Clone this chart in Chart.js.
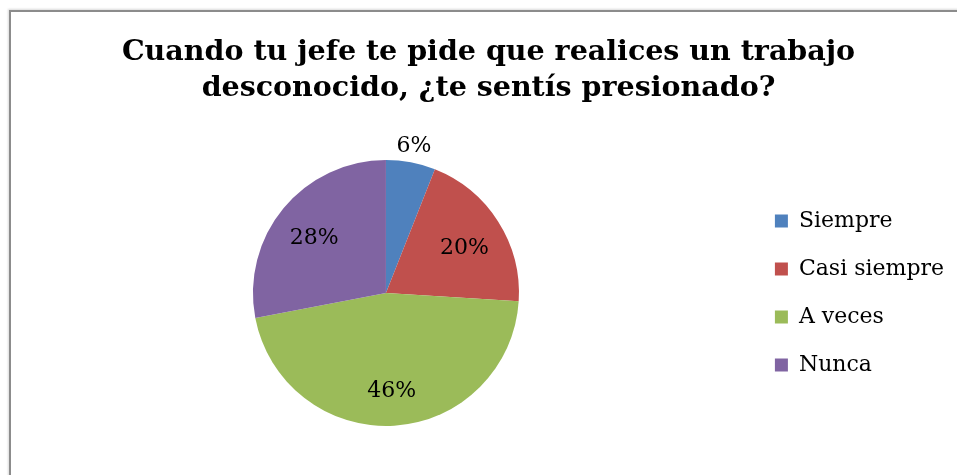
<!DOCTYPE html>
<html>
<head>
<meta charset="utf-8">
<script src="https://cdn.jsdelivr.net/npm/chart.js@4.4.1/dist/chart.umd.min.js"></script>
<style>
    html, body { margin: 0; padding: 0; background: #fff; overflow: hidden; }
    #frame {
        position: absolute; left: 9px; top: 10px; width: 1100px; height: 600px;
        border-top: 2px solid #8c8c8c; border-left: 2px solid #8c8c8c;
        box-shadow: -1px -1px 2px rgba(0,0,0,0.15);
    }
    #wrap { position: absolute; left: 0; top: 0; width: 957px; height: 475px; }
</style>
</head>
<body>
<div id="frame"></div>
<div id="wrap"><canvas id="pieChart"></canvas></div>
<script>
const titleLines = ['Cuando tu jefe te pide que realices un trabajo', 'desconocido, ¿te sentís presionado?'];
const categories = ['Siempre', 'Casi siempre', 'A veces', 'Nunca'];
const percentages = [6, 20, 46, 28];
const sliceColors = ['#4f81bd', '#c0504d', '#9bbb59', '#8064a2'];

// percent labels, small slices go outside
const pieLabels = {
    id: 'pieLabels',
    afterDatasetsDraw(chart) {
        const ctx = chart.ctx;
        const meta = chart.getDatasetMeta(0);
        ctx.save();
        ctx.font = '22px "DejaVu Serif"';
        ctx.fillStyle = '#000';
        ctx.textAlign = 'center';
        ctx.textBaseline = 'middle';
        meta.data.forEach((arc, i) => {
            const p = arc.getProps(['x', 'y', 'startAngle', 'endAngle', 'outerRadius'], true);
            const mid = (p.startAngle + p.endAngle) / 2;
            const outside = percentages[i] < 10;
            const r = outside ? p.outerRadius * 1.12 : p.outerRadius * 0.7;
            const dy = outside ? 0 : 5;
            ctx.fillText(percentages[i] + '%', p.x + Math.cos(mid) * r, p.y + Math.sin(mid) * r + dy);
        });
        ctx.restore();
    }
};

new Chart(document.getElementById('pieChart').getContext('2d'), {
    type: 'pie',
    data: {
        labels: categories,
        datasets: [{
            data: percentages,
            backgroundColor: sliceColors,
            borderWidth: 0
        }]
    },
    options: {
        responsive: true,
        maintainAspectRatio: false,
        animation: false,
        layout: {
            padding: { left: 23, right: 3, top: 0, bottom: 49 }
        },
        plugins: {
            title: {
                display: true,
                text: titleLines,
                color: '#000',
                font: { family: '"DejaVu Serif"', size: 28.5, weight: 'bold', lineHeight: 36 / 28.5 },
                padding: { top: 35, bottom: 53 }
            },
            legend: {
                position: 'right',
                fullSize: false,
                labels: {
                    color: '#000',
                    boxWidth: 13,
                    boxHeight: 13,
                    padding: 26,
                    font: { family: '"DejaVu Serif"', size: 22 }
                }
            },
            tooltip: { enabled: false }
        }
    },
    plugins: [pieLabels]
});
</script>
</body>
</html>
